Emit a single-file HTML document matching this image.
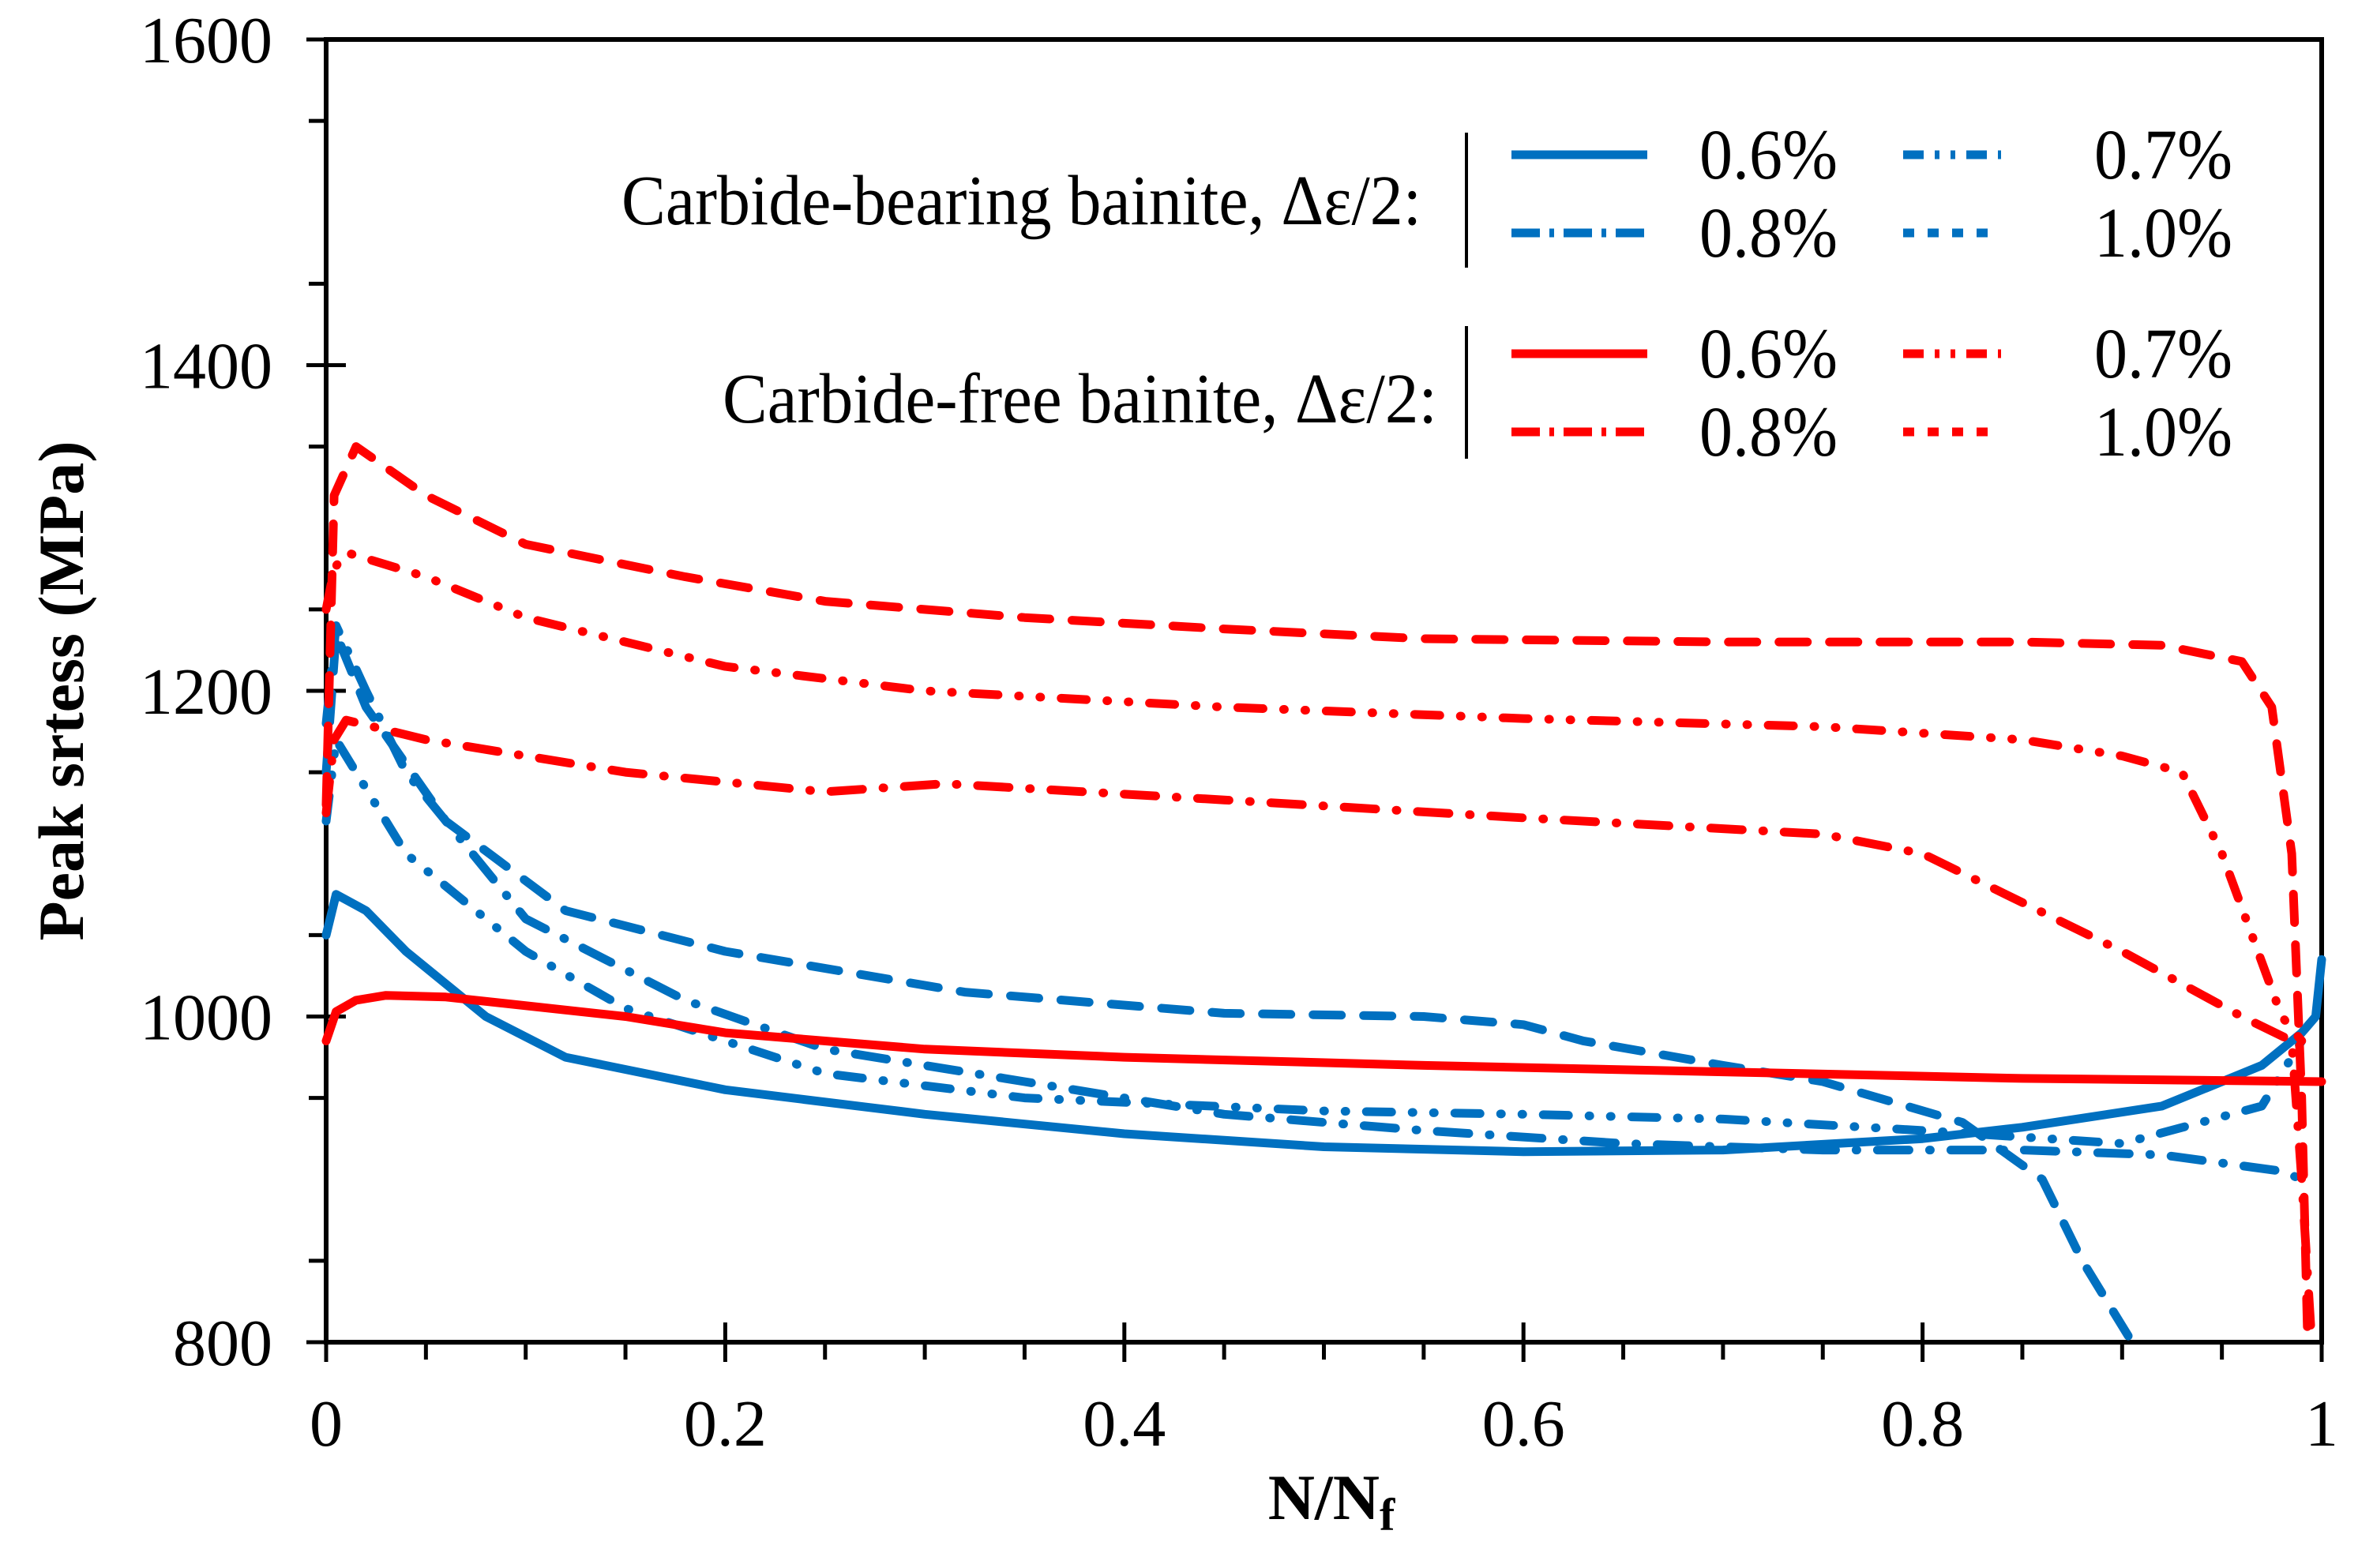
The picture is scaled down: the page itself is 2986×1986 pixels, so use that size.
<!DOCTYPE html>
<html><head><meta charset="utf-8"><style>
html,body{margin:0;padding:0;background:#fff;}
svg{display:block;}
svg text{font-family:"Liberation Serif","Times New Roman",serif;}
</style></head><body>
<svg id="chart" width="2986" height="1986" viewBox="0 0 2986 1986" xmlns="http://www.w3.org/2000/svg" font-family="Liberation Serif, serif">
<g id="axes"></g>
<g id="series"></g>
<g id="legend">
<text x="787" y="284" font-size="90" textLength="1013" lengthAdjust="spacingAndGlyphs" font-family="Liberation Serif, serif">Carbide-bearing bainite, Δε/2:</text>
<text x="915" y="535" font-size="90" textLength="905" lengthAdjust="spacingAndGlyphs" font-family="Liberation Serif, serif">Carbide-free bainite, Δε/2:</text>
<line x1="1857" y1="168" x2="1857" y2="339" stroke="#000" stroke-width="4"/>
<line x1="1857" y1="413" x2="1857" y2="581" stroke="#000" stroke-width="4"/>
</g>
</svg>
<script>
const xTicks=[0,0.2,0.4,0.6,0.8,1];
const xTickLabels=["0","0.2","0.4","0.6","0.8","1"];
const yTicks=[800,1000,1200,1400,1600];
const yTickLabels=["800","1000","1200","1400","1600"];

const cbX06=[0,0.005,0.02,0.04,0.08,0.12,0.2,0.3,0.4,0.5,0.6,0.7,0.8,0.85,0.92,0.97,0.99,0.997,1.0];
const cbY06=[1050,1075,1065,1040,1000,975,955,940,928,920,917,918,925,932,945,970,990,1000,1035];
const cbX07=[0,0.005,0.02,0.04,0.1,0.15,0.25,0.35,0.5,0.6,0.7,0.8,0.9,0.97,0.99];
const cbY07=[1120,1170,1140,1100,1040,1005,965,950,942,940,937,930,922,945,985];
const cbX08=[0,0.005,0.02,0.04,0.1,0.18,0.25,0.35,0.45,0.55,0.65,0.75,0.85,0.92,0.98,0.99];
const cbY08=[1180,1240,1200,1150,1060,1010,980,960,940,930,922,918,918,915,905,900];
const cbX10=[0,0.005,0.02,0.06,0.12,0.2,0.32,0.45,0.55,0.6,0.63,0.7,0.75,0.82,0.86,0.88,0.905];
const cbY10=[1150,1235,1190,1120,1065,1040,1015,1002,1000,995,985,970,960,935,900,850,800];

const cfX06=[0,0.005,0.015,0.03,0.06,0.15,0.2,0.3,0.4,0.55,0.7,0.85,1.0];
const cfY06=[985,1003,1010,1013,1012,1000,990,980,975,970,966,962,960];
const cfX07=[0,0.004,0.01,0.05,0.1,0.2,0.3,0.45,0.6,0.75,0.85,0.9,0.93,0.95,0.965,0.98,0.99];
const cfY07=[1250,1275,1285,1270,1245,1215,1200,1190,1183,1178,1170,1160,1150,1100,1050,1000,985];
const cfX08=[0,0.004,0.01,0.05,0.15,0.25,0.31,0.45,0.6,0.75,0.8,0.85,0.9,0.96,0.985,0.99,0.995];
const cfY08=[1125,1170,1182,1170,1150,1138,1143,1133,1122,1112,1100,1070,1040,1000,985,900,800];
const cfX10=[0,0.004,0.015,0.05,0.1,0.18,0.25,0.35,0.45,0.55,0.7,0.85,0.92,0.96,0.975,0.985,0.99,0.993];
const cfY10=[1130,1320,1350,1320,1290,1270,1255,1245,1238,1232,1230,1230,1228,1218,1190,1100,950,800];

const NS="http://www.w3.org/2000/svg";
const FONT="Liberation Serif, serif";
const L=413,R=2940,T=50,B=1700;
function sx(v){return L+(R-L)*v;}
function sy(v){return B-(B-T)*(v-800)/800;}
function mk(tag,attrs,parent){const e=document.createElementNS(NS,tag);for(const k in attrs)e.setAttribute(k,attrs[k]);parent.appendChild(e);return e;}
const axes=document.getElementById('axes');
const ser=document.getElementById('series');
const leg=document.getElementById('legend');

let fr=mk('rect',{x:L,y:T,width:R-L,height:B-T,fill:'none',stroke:'#000','stroke-width':6},axes);


for(let i=1;i<20;i++){const v=i*0.05;if(i%4===0)continue;
 let t=mk('line',{x1:sx(v),y1:B,x2:sx(v),y2:B+22,stroke:'#000','stroke-width':5},axes);
 
 }
xTicks.forEach((v,i)=>{
 let t=mk('line',{x1:sx(v),y1:B-25,x2:sx(v),y2:B+25,stroke:'#000','stroke-width':5},axes);
 
 
 let tx=mk('text',{x:sx(v),y:1831,'font-size':84,'text-anchor':'middle','font-family':FONT},axes);
 tx.textContent=xTickLabels[i];
 
 
});
for(let v=850;v<1600;v+=100){
 let t=mk('line',{x1:L-22,y1:sy(v),x2:L,y2:sy(v),stroke:'#000','stroke-width':5},axes);
 
 }
yTicks.forEach((v,i)=>{
 let t=mk('line',{x1:L-25,y1:sy(v),x2:L+25,y2:sy(v),stroke:'#000','stroke-width':5},axes);
 
 
 let tx=mk('text',{x:345,y:sy(v)+29,'font-size':84,'text-anchor':'end','font-family':FONT},axes);
 tx.textContent=yTickLabels[i];
 
 
});
let xt=mk('text',{x:1686,y:1924,'font-size':82,'font-weight':'bold','text-anchor':'middle','font-family':FONT},axes);
xt.innerHTML='N/N<tspan font-size="58" dy="14">f</tspan>';


let yt=mk('text',{x:0,y:0,'font-size':82,'font-weight':'bold','text-anchor':'middle','font-family':FONT,transform:'translate(105,875) rotate(-90)'},axes);
yt.textContent='Peak srtess (MPa)';



const BLUE='#0070C0',RED='#FF0000';
const dashSolid='none',dashDD='32 26 1 26 1 26',dashDot='40 26 1 26',dashDashed='36 28';
function line(xs,ys,color,dash,name){
 const pts=xs.map((x,i)=>sx(x).toFixed(1)+','+sy(ys[i]).toFixed(1)).join(' ');
 let p=mk('polyline',{points:pts,fill:'none',stroke:color,'stroke-width':11,'stroke-linejoin':'round','stroke-linecap':'round'},ser);
 if(dash!=='none')p.setAttribute('stroke-dasharray',dash);
 
 
}
line(cbX06,cbY06,BLUE,dashSolid,'series-cb-0.6');
line(cbX07,cbY07,BLUE,dashDD,'series-cb-0.7');
line(cbX08,cbY08,BLUE,dashDot,'series-cb-0.8');
line(cbX10,cbY10,BLUE,dashDashed,'series-cb-1.0');
line(cfX07,cfY07,RED,dashDD,'series-cf-0.7');
line(cfX08,cfY08,RED,dashDot,'series-cf-0.8');
line(cfX10,cfY10,RED,dashDashed,'series-cf-1.0');
line(cfX06,cfY06,RED,dashSolid,'series-cf-0.6');

const legRowsY=[196,295,448,547];
const legEntries=[
 [0,0,BLUE,'none','0.6%'],[1,0,BLUE,'26 14 6 14 6 14','0.7%'],
 [0,1,BLUE,'36 12 6 12','0.8%'],[1,1,BLUE,'14 17','1.0%'],
 [0,2,RED,'none','0.6%'],[1,2,RED,'26 14 6 14 6 14','0.7%'],
 [0,3,RED,'36 12 6 12','0.8%'],[1,3,RED,'14 17','1.0%']];
legEntries.forEach(e=>{
 const x0=e[0]?2410:1914,x1=e[0]?2534:2086,y=legRowsY[e[1]];
 let s=mk('line',{x1:x0,y1:y,x2:x1,y2:y,stroke:e[2],'stroke-width':11},leg);
 if(e[3]!=='none')s.setAttribute('stroke-dasharray',e[3]);
 
 
 let t=mk('text',{x:e[0]?2652:2152,y:y+30,'font-size':90,'textLength':175,'lengthAdjust':'spacingAndGlyphs','font-family':FONT},leg);
 t.textContent=e[4];
 
 
});
</script>
</body></html>
